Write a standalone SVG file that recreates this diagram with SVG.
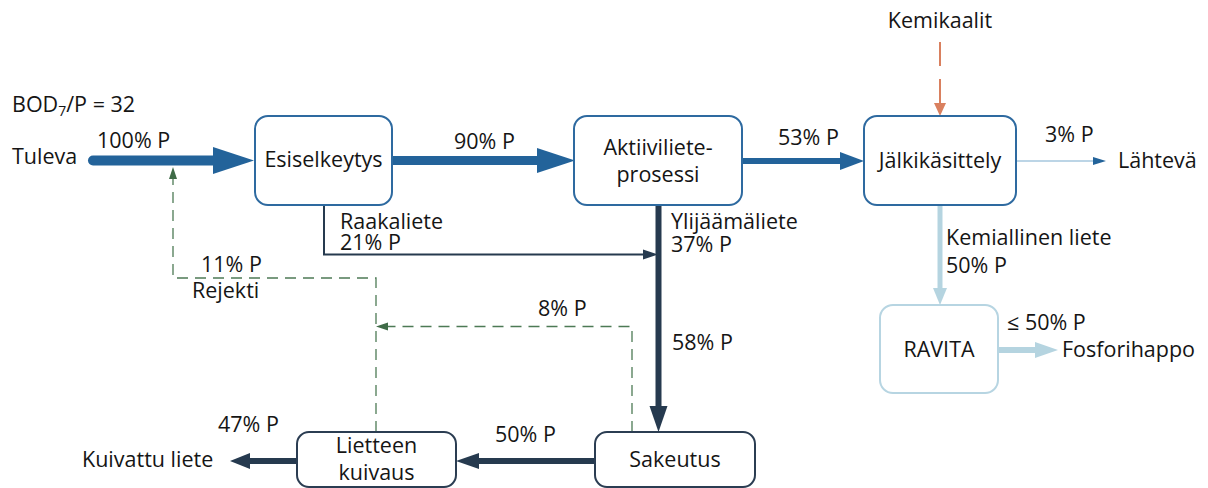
<svg xmlns="http://www.w3.org/2000/svg" width="1208" height="488" viewBox="0 0 1208 488">
  <style>
    text { font-family: "Open Sans", "Liberation Sans", sans-serif; font-size: 21.5px; fill: #151515; }
    .mid { text-anchor: middle; }
    .box { fill: #ffffff; stroke: #2e6aa0; stroke-width: 2; }
    .box-dark { fill: #ffffff; stroke: #2b3d52; stroke-width: 2; }
    .box-light { fill: #ffffff; stroke: #b7d5e2; stroke-width: 2; }
    .flow-blue { stroke: #23639a; fill: none; }
    .head-blue { fill: #23639a; }
    .flow-dark { stroke: #263a4f; fill: none; }
    .head-dark { fill: #263a4f; }
    .flow-light { stroke: #b5d4e0; fill: none; }
    .head-light { fill: #b5d4e0; }
    .flow-return { stroke: #4d7a55; stroke-width: 1.3; fill: none; stroke-dasharray: 11 7; }
    .head-return { fill: #3f6b47; }
    .flow-chem { stroke: #d9805f; stroke-width: 2; fill: none; stroke-dasharray: 24 13; }
    .head-chem { fill: #d9805f; }
  </style>

  <!-- connectors -->
  <g id="connectors">
    <!-- influent -->
    <line class="flow-blue" x1="93" y1="160.5" x2="220" y2="160.5" stroke-width="10" stroke-linecap="round"/>
    <polygon class="head-blue" points="213,147 254,160.5 213,174"/>
    <!-- primary to activated sludge -->
    <line class="flow-blue" x1="392" y1="160.5" x2="542" y2="160.5" stroke-width="9"/>
    <polygon class="head-blue" points="537,148 575,160.5 537,173"/>
    <!-- activated sludge to post-treatment -->
    <line class="flow-blue" x1="740" y1="161" x2="844" y2="161" stroke-width="6" stroke-linecap="round"/>
    <polygon class="head-blue" points="840,152 864,161 840,170"/>
    <!-- effluent -->
    <line x1="1016" y1="161" x2="1096" y2="161" stroke="#bcd5e6" stroke-width="2"/>
    <polygon class="head-blue" points="1093,157 1106,161 1093,165"/>
    <!-- chemicals -->
    <line class="flow-chem" x1="940" y1="42" x2="940" y2="104"/>
    <polygon class="head-chem" points="934,103 940,116 946,103"/>
    <!-- primary sludge -->
    <path class="flow-dark" d="M324 205 V254.5 H646" stroke-width="2"/>
    <polygon class="head-dark" points="643,249.5 658,254.5 643,259.5"/>
    <!-- surplus sludge to thickening -->
    <line class="flow-dark" x1="658.5" y1="205" x2="658.5" y2="410" stroke-width="6"/>
    <polygon class="head-dark" points="649.5,406 658.5,432 667.5,406"/>
    <!-- chemical sludge -->
    <line class="flow-light" x1="940" y1="205" x2="940" y2="291" stroke-width="5"/>
    <polygon class="head-light" points="933,288 940,305 947,288"/>
    <!-- phosphoric acid -->
    <line class="flow-light" x1="998" y1="350" x2="1038" y2="350" stroke-width="6"/>
    <polygon class="head-light" points="1035,342 1058,350 1035,358"/>
    <!-- thickening to drying -->
    <line class="flow-dark" x1="595" y1="461" x2="476" y2="461" stroke-width="6"/>
    <polygon class="head-dark" points="479,453 456,461 479,469"/>
    <!-- dried sludge -->
    <line class="flow-dark" x1="297" y1="461" x2="247" y2="461" stroke-width="6"/>
    <polygon class="head-dark" points="250,453 230,461 250,469"/>
    <!-- reject water return -->
    <path class="flow-return" d="M376 432 V278 H173 V179"/>
    <polygon class="head-return" points="169,179 173,167 177,179"/>
    <!-- thickening return -->
    <path class="flow-return" d="M632 432 V326.5 H388"/>
    <polygon class="head-return" points="388,322.5 376,326.5 388,330.5"/>
  </g>

  <!-- free labels -->
  <g id="labels">
    <text x="12" y="112">BOD<tspan font-size="14" dy="4">7</tspan><tspan dy="-4">/P = 32</tspan></text>
    <text x="12" y="164">Tuleva</text>
    <text x="97" y="148">100% P</text>
    <text x="454" y="149">90% P</text>
    <text x="778" y="145">53% P</text>
    <text x="1045" y="142">3% P</text>
    <text x="1118" y="168">Lähtevä</text>
    <text x="940" y="28" class="mid">Kemikaalit</text>
    <text x="340" y="229">Raakaliete</text>
    <text x="340" y="250">21% P</text>
    <text x="671" y="229">Ylijäämäliete</text>
    <text x="671" y="252">37% P</text>
    <text x="201" y="272">11% P</text>
    <text x="192" y="298">Rejekti</text>
    <text x="538" y="316">8% P</text>
    <text x="672" y="350">58% P</text>
    <text x="946" y="245">Kemiallinen liete</text>
    <text x="946" y="273">50% P</text>
    <text x="1007" y="330">≤ 50% P</text>
    <text x="1062" y="357">Fosforihappo</text>
    <text x="218" y="432">47% P</text>
    <text x="82" y="467">Kuivattu liete</text>
    <text x="495" y="442">50% P</text>
  </g>

  <!-- process units -->
  <g id="esiselkeytys">
    <rect class="box" x="255" y="116" width="137" height="89" rx="13"/>
    <text x="323.5" y="167" class="mid">Esiselkeytys</text>
  </g>
  <g id="aktiiviliete">
    <rect class="box" x="574" y="116" width="168" height="89" rx="13"/>
    <text x="658" y="155" class="mid">Aktiiviliete-</text>
    <text x="658" y="182" class="mid">prosessi</text>
  </g>
  <g id="jalkikasittely">
    <rect class="box" x="864" y="116" width="152" height="89" rx="13"/>
    <text x="940" y="168" class="mid">Jälkikäsittely</text>
  </g>
  <g id="ravita">
    <rect class="box-light" x="880" y="305" width="118" height="88" rx="13"/>
    <text x="939" y="357" class="mid">RAVITA</text>
  </g>
  <g id="sakeutus">
    <rect class="box-dark" x="595" y="432" width="160" height="55" rx="12"/>
    <text x="675" y="467" class="mid">Sakeutus</text>
  </g>
  <g id="lietteen-kuivaus">
    <rect class="box-dark" x="297" y="432" width="159" height="55" rx="12"/>
    <text x="376.5" y="453" class="mid">Lietteen</text>
    <text x="376.5" y="480" class="mid">kuivaus</text>
  </g>
</svg>
